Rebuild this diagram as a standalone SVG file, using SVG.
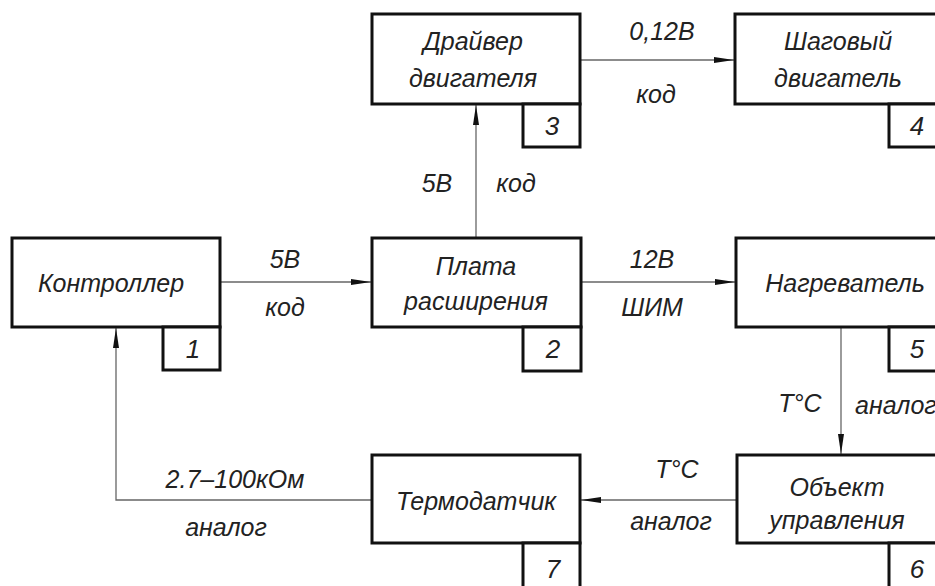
<svg xmlns="http://www.w3.org/2000/svg" width="935" height="586" viewBox="0 0 935 586">
<style>
.box{fill:#fff;stroke:#111;stroke-width:3}
.t{font-family:"Liberation Sans",Arial,sans-serif;font-style:italic;font-size:25px;fill:#222;text-anchor:middle}
.n{font-family:"Liberation Sans",Arial,sans-serif;font-style:italic;font-size:26px;fill:#222;text-anchor:middle}
.c{fill:none;stroke:#666;stroke-width:1.3}
</style>
<defs>
<marker id="ar" viewBox="0 0 20 8" refX="20" refY="4" markerWidth="20" markerHeight="8" markerUnits="userSpaceOnUse" orient="auto">
<path d="M0,1 L20,4 L0,7 Z" fill="#111"/>
</marker>
</defs>
<rect width="935" height="586" fill="#fff"/>
<g id="connectors">
<path class="c" d="M220,282 H371" marker-end="url(#ar)"/>
<path class="c" d="M476,238 V105" marker-end="url(#ar)"/>
<path class="c" d="M580,60 H734" marker-end="url(#ar)"/>
<path class="c" d="M581,282 H735" marker-end="url(#ar)"/>
<path class="c" d="M841,327 V454" marker-end="url(#ar)"/>
<path class="c" d="M737,500 H581" marker-end="url(#ar)"/>
<path class="c" d="M372,500 H116 V328" marker-end="url(#ar)"/>
<text class="t" x="285" y="268">5В</text>
<text class="t" x="285" y="316">код</text>
<text class="t" x="437" y="192">5В</text>
<text class="t" x="516" y="192">код</text>
<text class="t" x="662" y="40">0,12В</text>
<text class="t" x="656" y="103">код</text>
<text class="t" x="652" y="268">12В</text>
<text class="t" x="652" y="316">ШИМ</text>
<text class="t" x="800" y="412">T°C</text>
<text class="t" x="855" y="414" style="text-anchor:start">аналог</text>
<text class="t" x="677" y="478">T°C</text>
<text class="t" x="671" y="530">аналог</text>
<text class="t" x="235" y="488">2.7–100кОм</text>
<text class="t" x="226" y="536">аналог</text>
</g>
<g id="node1">
<rect class="box" x="12" y="238" width="208" height="89"/>
<rect class="box" x="163" y="327" width="57" height="43"/>
<text class="t" x="111" y="292">Контроллер</text>
<text class="n" x="193" y="358">1</text>
</g>
<g id="node2">
<rect class="box" x="372" y="238" width="209" height="89"/>
<rect class="box" x="523" y="327" width="58" height="44"/>
<text class="t" x="476" y="275">Плата</text>
<text class="t" x="476" y="310">расширения</text>
<text class="n" x="553" y="358">2</text>
</g>
<g id="node3">
<rect class="box" x="372" y="14" width="208" height="90"/>
<rect class="box" x="523" y="104" width="57" height="43"/>
<text class="t" x="473" y="50">Драйвер</text>
<text class="t" x="473" y="87">двигателя</text>
<text class="n" x="552" y="135">3</text>
</g>
<g id="node4">
<rect class="box" x="735" y="14" width="230" height="90"/>
<rect class="box" x="889" y="104" width="60" height="43"/>
<text class="t" x="838" y="50">Шаговый</text>
<text class="t" x="838" y="87">двигатель</text>
<text class="n" x="917" y="135">4</text>
</g>
<g id="node5">
<rect class="box" x="736" y="238" width="230" height="89"/>
<rect class="box" x="889" y="327" width="60" height="44"/>
<text class="t" x="845" y="292">Нагреватель</text>
<text class="n" x="917" y="358">5</text>
</g>
<g id="node6">
<rect class="box" x="737" y="455" width="230" height="88"/>
<rect class="box" x="889" y="543" width="60" height="50"/>
<text class="t" x="837" y="496">Объект</text>
<text class="t" x="837" y="529">управления</text>
<text class="n" x="917" y="578">6</text>
</g>
<g id="node7">
<rect class="box" x="372" y="455" width="208" height="88"/>
<rect class="box" x="523" y="543" width="57" height="50"/>
<text class="t" x="476" y="510">Термодатчик</text>
<text class="n" x="553" y="578">7</text>
</g>
</svg>
